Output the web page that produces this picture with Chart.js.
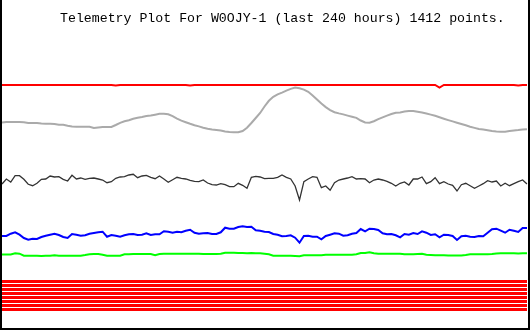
<!DOCTYPE html>
<html>
<head>
<meta charset="utf-8">
<script src="https://cdn.jsdelivr.net/npm/chart.js@4/dist/chart.umd.min.js"></script>
<style>
  body { margin: 0; background: #fff; }
  canvas { display: block; }
</style>
</head>
<body>
<canvas id="telemetry" width="530" height="330"></canvas>
<script>
const plotTitle = 'Telemetry Plot For W0OJY-1 (last 240 hours) 1412 points.';

// hours before now, one sample every 2 hours
const hours = [];
for (let h = -240; h <= 0; h += 2) hours.push(h);

// levels (0 = bottom edge, 330 = top edge)
const redTop = [
  245, 245, 245, 245, 245, 245, 245, 245, 245, 245,
  245, 245, 245, 245, 245, 245, 245, 245, 245, 245,
  245, 245, 245, 245, 245, 245, 244.4, 245, 245, 245,
  245, 245, 245, 245, 245, 245, 245, 245, 245, 245,
  245, 245, 245, 244.4, 245, 245, 245, 245, 245, 245,
  245, 245, 245, 245, 245, 245, 245, 245, 245, 245,
  245, 245, 245, 245, 245, 245, 245, 245, 245, 245,
  245, 245, 245, 245, 245, 245, 245, 245, 245, 245,
  245, 245, 245, 245, 245, 245, 245, 245, 245, 245,
  245, 245, 245, 245, 245, 245, 245, 245, 245, 245,
  242.5, 245, 245, 245, 245, 245, 245, 245, 245, 245,
  245, 245, 245, 245, 245, 245, 245, 245, 244.5, 245,
  245
];

const grayLine = [
  207.5, 208, 208, 208, 208, 207.7, 207, 207, 207, 206.5,
  206.3, 206.3, 206, 205.3, 205.3, 204.3, 203.5, 203.3, 203.3, 203.3,
  203.3, 202, 202.5, 203, 203, 203, 205, 207.2, 208.7, 209.7,
  211.2, 212.2, 213, 214, 214.5, 215.3, 216.2, 216.3, 215.7, 213.8,
  211.4, 209.4, 207.8, 206.2, 204.8, 203.6, 202.3, 201.2, 200.4, 200,
  199.5, 198.6, 198, 197.7, 197.7, 199, 202.3, 207, 212, 217,
  223.5, 229.2, 233.2, 235.6, 237.4, 239.4, 241.1, 242.5, 241.8, 240.4,
  238.2, 234.5, 230.4, 226.4, 222.9, 219.9, 217.8, 216.6, 215.6, 214.4,
  213.3, 212.1, 209.5, 207.6, 207.3, 208.8, 210.9, 212.7, 214.4, 216,
  217.2, 217.5, 218.4, 218.9, 219, 218.2, 217.4, 216.5, 215.4, 214.2,
  212.8, 211.3, 209.9, 208.6, 207.3, 206, 204.7, 203.3, 202.1, 201,
  200.4, 199.7, 199, 198.6, 198.3, 198.3, 198.9, 199.5, 199.9, 200.4,
  200.8
];

const blackLine = [
  146, 151, 148, 154.3, 154.3, 150.7, 145.7, 144.3, 146.7, 150.7,
  151, 154, 153, 153.3, 150.7, 149, 154.7, 151, 152, 150.7,
  151.7, 152, 151, 150, 147.3, 148.3, 151.7, 153, 153.3, 155,
  155.7, 152.3, 154, 154.7, 152.7, 151.3, 154, 151, 147.7, 150.3,
  152.7, 151.7, 151, 149.7, 148.7, 148.3, 150, 147, 145.3, 145,
  146.3, 145.3, 143.3, 143.3, 146.7, 144.7, 141.7, 152.7, 153.7, 153,
  151.3, 151.7, 151.7, 152.7, 155, 152.7, 151, 144, 130, 148.3,
  151, 153.3, 152.7, 142.3, 144, 139.7, 147.3, 150, 151, 152,
  153.3, 151, 151.3, 151, 147.3, 150, 151, 150, 148.7, 146.7,
  144, 146.7, 148, 145, 151, 151, 153, 146.3, 148.3, 152.3,
  146.3, 148.3, 146, 144.7, 139, 145.3, 146.7, 144.3, 141.7, 144,
  146.3, 149.3, 148, 149, 144, 146.7, 144.3, 146.3, 148.3, 150,
  146
];

const blueLine = [
  94, 94, 96.3, 97.7, 95.3, 92, 90.3, 91.3, 91, 93,
  94.3, 95.3, 96.3, 95, 93, 92, 96, 95.3, 94.3, 94.7,
  96.3, 97, 97.7, 98.3, 93.3, 95, 94.3, 93.3, 94.7, 95.7,
  96, 95, 95.3, 96.7, 95, 95.7, 95.7, 98.7, 98.3, 97.3,
  98.3, 97.7, 99.3, 100.3, 97.3, 96.3, 96.7, 97, 96, 96,
  97.7, 102.3, 101.3, 101.3, 103, 103.7, 103, 103.3, 99.7, 99.3,
  98.3, 98, 96, 95.3, 93.7, 94, 94.7, 92.3, 87.3, 94,
  94.3, 93.3, 93.3, 90.7, 94, 95.3, 96.7, 96.3, 94.3, 94.7,
  96.3, 97, 101, 98.7, 101.3, 101, 100, 96.7, 95.7, 96,
  94.7, 92.7, 96, 95.3, 97, 96, 98.7, 97.3, 95, 95.7,
  92.7, 95.3, 95, 94, 90, 93.7, 94.3, 93.3, 93, 94,
  93.7, 97.3, 100.7, 101.3, 99.3, 97.3, 100.3, 99.3, 98, 102,
  102
];

const greenLine = [
  75.5, 75.5, 75.5, 76.8, 76.3, 74.3, 74.3, 74.3, 74.3, 74.1,
  74.3, 74.3, 74.7, 74.3, 74.3, 74.3, 74.3, 74.3, 74.3, 75,
  75.8, 76, 76, 75.3, 74.3, 74.3, 74.3, 74.3, 75.7, 75.8,
  76, 76, 76, 76, 76, 74.8, 76, 76.3, 76.3, 76.3,
  76.3, 76.3, 76.3, 76.3, 76.3, 76.3, 76, 76, 76, 76,
  76.3, 77.3, 77.3, 77.3, 77, 77, 76.7, 77, 76.7, 76.7,
  76.3, 75.7, 74.3, 74.3, 74.3, 74.3, 74.3, 74, 73.7, 74.7,
  74.7, 74.7, 74.7, 74.7, 75.3, 75.3, 75.3, 75.3, 75.3, 75.3,
  75.3, 75.7, 77, 77, 77.7, 76.7, 76.3, 76.3, 76.3, 76.3,
  76.3, 76.3, 75.7, 75.7, 75.7, 76, 76.3, 75.3, 75, 74.7,
  74.7, 74.7, 74.5, 74.5, 74.5, 74.5, 75, 75.7, 75.7, 75.7,
  75.7, 75.8, 76, 76.5, 76.7, 76.7, 76.7, 76.7, 76.5, 76.7,
  76.7
];

// eight status channels that stayed flat for the whole window
const statusLevels = [48.5, 44.5, 40.5, 36.5, 32.5, 28.5, 24.5, 20.5];

const line = (data, color, width) => ({
  data: data,
  borderColor: color,
  borderWidth: width,
  pointRadius: 0,
  fill: false,
  tension: 0
});

const datasets = statusLevels.map(level => line(hours.map(() => level), '#ff0000', 3));
datasets.push(line(greenLine, '#00ff00', 2));
datasets.push(line(blueLine, '#0000ff', 2));
datasets.push(line(blackLine, '#333333', 1.3));
datasets.push(line(grayLine, '#aaaaaa', 2));
datasets.push(line(redTop, '#ff0000', 2));

const frameAndTitle = {
  id: 'frameAndTitle',
  afterDraw(chart) {
    const ctx = chart.ctx;
    const w = chart.width, h = chart.height;
    ctx.save();
    ctx.fillStyle = '#000';
    ctx.fillRect(0, 0, 2, h);
    ctx.fillRect(w - 2, 0, 2, h);
    ctx.fillRect(0, h - 2, w, 2);
    // title spans x 60..505 in the original
    ctx.font = '13px "Liberation Mono"';
    const size = 13 * 445 / ctx.measureText(plotTitle).width;
    ctx.font = size.toFixed(2) + 'px "Liberation Mono"';
    ctx.textBaseline = 'alphabetic';
    ctx.fillText(plotTitle, 60, 22);
    ctx.restore();
  }
};

new Chart(document.getElementById('telemetry'), {
  type: 'line',
  data: { labels: hours, datasets: datasets },
  options: {
    responsive: false,
    animation: false,
    layout: { padding: { left: 2, right: 3, top: 0, bottom: 0 } },
    plugins: {
      legend: { display: false },
      tooltip: { enabled: false }
    },
    scales: {
      x: { display: false, offset: false },
      y: { display: false, min: 0, max: 330 }
    }
  },
  plugins: [frameAndTitle]
});
</script>
</body>
</html>
